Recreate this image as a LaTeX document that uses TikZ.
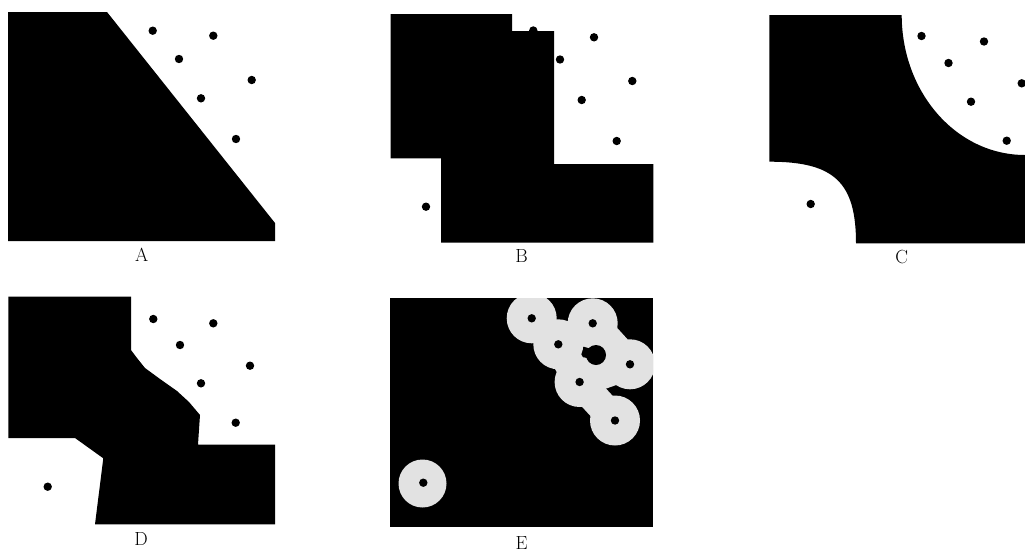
\documentclass[tikz,border=0pt]{standalone}
\definecolor{blobgray}{RGB}{226,226,226}
\tikzset{
  region/.style={fill=black},
  dotmark/.style={fill=black},
  blob/.style={fill=blobgray},
  neck/.style={draw=blobgray, line width=30pt, line cap=round},
  lbl/.style={font=\fontsize{19}{19}\selectfont, inner sep=0pt, text=black}
}
\begin{document}
\begin{tikzpicture}[x=1pt,y=-1pt]
\path[use as bounding box] (0,0) rectangle (1025,552);
\clip (0,0) rectangle (1025,552);

% ---------- Panel A ----------
\fill[region] (8,12) -- (107,12) -- (275,223) -- (275,241) -- (8,241) -- cycle;
\foreach \p in {(152.7,30.7),(213.3,35.7),(179,59),(251.7,80),(201,98.3),(236,139)}
  \fill[dotmark] \p circle[radius=4.2pt];
\node[lbl] (labA) at (141.7,255) {A};

% ---------- Panel B ----------
\fill[region] (390.7,14) -- (512,14) -- (512,31) -- (554,31) -- (554,164) -- (653.3,164)
  -- (653.3,242.7) -- (441,242.7) -- (441,158.3) -- (390.7,158.3) -- cycle;
\foreach \p in {(533.3,30.5),(560,59.5),(594,37.3),(632.3,81),(581.7,100),(616.7,141),(426,206.7)}
  \fill[dotmark] \p circle[radius=4.2pt];
\node[lbl] (labB) at (521.7,256.5) {B};

% ---------- Panel C ----------
\fill[region] (769.3,15) -- (901.7,15) .. controls (901.7,92) and (956,155) .. (1025,155)
  -- (1025,243.3) -- (856,243.3) .. controls (856,182) and (834,161.7) .. (769.3,161.7) -- cycle;
\foreach \p in {(921.5,36),(984,41.5),(948.5,63),(1021.7,83.3),(971,101.7),(1006.7,140.7),(810.7,204)}
  \fill[dotmark] \p circle[radius=4.2pt];
\node[lbl] (labC) at (901.7,257.5) {C};

% ---------- Panel D ----------
\fill[region] (8.3,296.7) -- (131,296.7) -- (131,350) -- (137,358) -- (145,368) -- (160,379)
  -- (177,391) -- (189,402) -- (200,415) -- (198,444.5) -- (275,444.5) -- (275,524.3)
  -- (95,524.3) -- (103.3,458.3) -- (75,438) -- (8.3,438) -- cycle;
\foreach \p in {(153.3,319),(213.3,323.3),(180,345),(250,365.7),(201,383.3),(235.7,422.7),(47.7,486.7)}
  \fill[dotmark] \p circle[radius=4.2pt];
\node[lbl] (labD) at (141,539) {D};

% ---------- Panel E ----------
\fill[region] (390,298.3) rectangle (653.3,526.7);
\coordinate (e1) at (531.7,318.3);
\coordinate (e2) at (592.7,323.3);
\coordinate (e3) at (558.3,344.3);
\coordinate (e4) at (630,364.3);
\coordinate (e5) at (579.6,382);
\coordinate (e6) at (615,420.5);
\coordinate (e7) at (423.3,482.7);
\begin{scope}
  \clip (390,298.3) rectangle (653.3,526.7);
  \draw[neck] (e1) -- (e3);
  \draw[neck] (e2) -- (e3);
  \draw[neck] (e3) -- (e5);
  \draw[neck] (e2) -- (e4);
  \draw[neck] (e4) -- (e5);
  \draw[neck] (e5) -- (e6);
  \foreach \c in {e1,e2,e3,e4,e5,e6}
    \fill[blob] (\c) circle[radius=25pt];
  \fill[blob] (422.5,483.5) circle[radius=24pt];
  \fill[region] (596,355) circle[radius=10pt];
\end{scope}
\foreach \c in {e1,e2,e3,e4,e5,e6,e7}
  \fill[dotmark] (\c) circle[radius=4.2pt];
\node[lbl] (labE) at (521.7,543) {E};
\end{tikzpicture}
\end{document}
